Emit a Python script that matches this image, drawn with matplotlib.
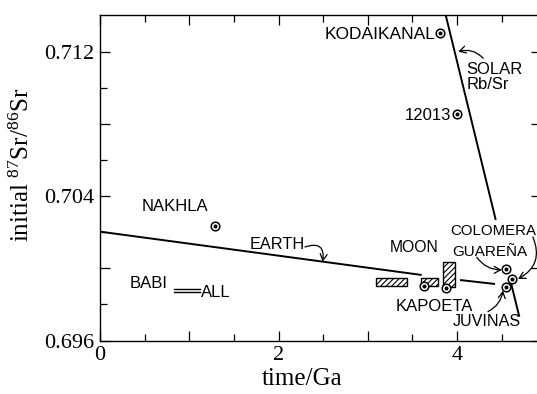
import matplotlib
matplotlib.use("Agg")
import matplotlib.pyplot as plt
from matplotlib.patches import Rectangle

plt.rcParams['font.family'] = ['Liberation Serif', 'DejaVu Serif']
plt.rcParams['mathtext.fontset'] = 'custom'
plt.rcParams['mathtext.rm'] = 'Liberation Serif'
plt.rcParams['mathtext.it'] = 'Liberation Serif:italic'
plt.rcParams['hatch.linewidth'] = 0.8

# ---------------- data ----------------
# Earth evolution line (two pieces, interrupted by the lunar boxes)
earth_t1 = [0.0, 3.604]
earth_v1 = [0.70203, 0.69963]
earth_t2 = [4.034, 4.426]
earth_v2 = [0.69935, 0.69913]

# Solar Rb/Sr line (interrupted by labels)
solar_t1 = [3.873, 4.434]
solar_v1 = [0.71403, 0.70268]
solar_t2 = [4.605, 4.698]
solar_v2 = [0.69919, 0.69732]

# Sample points (time / Ga, initial 87Sr/86Sr)
pt_names = ["KODAIKANAL", "12013", "NAKHLA", "MOON-a", "MOON-b",
            "GUAREÑA", "COLOMERA", "JUVINAS"]
pt_t = [3.810, 3.997, 1.289, 3.630, 3.882, 4.549, 4.613, 4.546]
pt_v = [0.71302, 0.70853, 0.70234, 0.69902, 0.69889, 0.69994, 0.69939, 0.69898]

# Lunar hatched boxes: (t_min, t_max, v_min, v_max)
box_tmin = [3.092, 3.593, 3.841]
box_tmax = [3.443, 3.790, 3.972]
box_vmin = [0.69902, 0.69902, 0.69895]
box_vmax = [0.69948, 0.69948, 0.70037]

# BABI / ALL double bar
babi_t = [0.829, 1.120]
babi_v = 0.69884
all_v = 0.69870

# axes ticks
x_major = [0, 1, 2, 3, 4]
x_major_labels = ["0", "", "2", "", "4"]
x_minor = [0.5, 1.5, 2.5, 3.5, 4.5]
y_major = [0.696, 0.700, 0.704, 0.708, 0.712]
y_major_labels = ["0.696", "", "0.704", "", "0.712"]
y_minor = [0.698, 0.702, 0.706, 0.710]

# ---------------- figure ----------------
fig = plt.figure(figsize=(5.37, 3.94), dpi=100)
ax = fig.add_axes([100/537, 1-340.5/394, 441/537, 325.5/394])
ax.set_xlim(0, 4.941)
ax.set_ylim(0.696, 0.71403)

for s in ['left', 'bottom', 'top']:
    ax.spines[s].set_linewidth(1.0)
ax.spines['right'].set_visible(False)

ax.set_xticks(x_major)
ax.set_xticklabels(x_major_labels)
ax.set_xticks(x_minor, minor=True)
ax.set_yticks(y_major)
ax.set_yticklabels(y_major_labels)
ax.set_yticks(y_minor, minor=True)
ax.tick_params(which='both', direction='in', top=True, right=True,
               labelsize=16, width=0.9)
ax.tick_params(which='major', length=7)
ax.tick_params(which='minor', length=5)
ax.tick_params(axis='y', which='minor', right=False)
ax.tick_params(axis='x', pad=4)
ax.tick_params(axis='y', pad=4)

ax.set_xlabel("time/Ga", fontsize=18, va='center')
ax.xaxis.set_label_coords(0.459, -0.117)
ax.set_ylabel(r"initial $^{87}$Sr/$^{86}$Sr", fontsize=18, va='center')
ax.yaxis.set_label_coords(-0.178, 0.539)

lw = 1.4
ax.plot(earth_t1, earth_v1, color='black', lw=lw, solid_capstyle='butt')
ax.plot(earth_t2, earth_v2, color='black', lw=lw, solid_capstyle='butt')
ax.plot(solar_t1, solar_v1, color='black', lw=lw, solid_capstyle='butt')
ax.plot(solar_t2, solar_v2, color='black', lw=lw, solid_capstyle='butt')

for t0, t1, v0, v1 in zip(box_tmin, box_tmax, box_vmin, box_vmax):
    ax.add_patch(Rectangle((t0, v0), t1 - t0, v1 - v0, facecolor='white',
                           edgecolor='black', lw=1.0, hatch='//////'))

ax.plot(pt_t, pt_v, 'o', ms=6.2, mfc='white', mec='black', mew=1.1, zorder=5)
ax.plot(pt_t, pt_v, 'o', ms=1.9, mfc='black', mec='black', zorder=6)

ax.plot(babi_t, [babi_v, babi_v], color='black', lw=1.0)
ax.plot(babi_t, [all_v, all_v], color='black', lw=1.0)

# ---------------- labels ----------------
sans = ['Liberation Sans', 'DejaVu Sans']
def lab(s, t, v, ha='left', fs=12, **kw):
    ax.text(t, v, s, ha=ha, va='center', fontsize=fs, family=sans, **kw)

lab("KODAIKANAL", 3.754, 0.71293, ha='right', fs=12.5)
lab("12013", 3.939, 0.70849, ha='right')
lab("SOLAR\nRb/Sr", 4.108, 0.71061, linespacing=1.0)
lab("NAKHLA", 0.467, 0.70345)
lab("EARTH", 1.681, 0.70132, fs=11.7)
lab("MOON", 3.241, 0.70115, fs=11.3)
lab("COLOMERA", 3.922, 0.70207, fs=10.8)
lab("GUAREÑA", 3.952, 0.70090, fs=11)
lab("KAPOETA", 3.317, 0.69791)
lab("JUVINAS", 3.952, 0.69704, fs=11.6)
lab("BABI", 0.336, 0.69917)
lab("ALL", 1.134, 0.69865)

arrow = dict(arrowstyle='->,head_length=0.45,head_width=0.25', color='black',
             lw=0.9, shrinkA=0, shrinkB=0)
def arr(tail, head, rad):
    ax.annotate("", xy=head, xytext=tail,
                arrowprops=dict(arrow, connectionstyle=f"arc3,rad={rad}"))

arr((4.294, 0.71163), (4.014, 0.71200), 0.3)     # SOLAR
arr((2.297, 0.70118), (2.495, 0.70037), -0.8)    # EARTH
arr((4.221, 0.70061), (4.501, 0.69991), 0.25)    # GUAREÑA
arr((4.850, 0.70173), (4.684, 0.69941), -0.45)   # COLOMERA
arr((4.347, 0.69760), (4.515, 0.69876), 0.25)    # JUVINAS

fig.savefig("out.png", dpi=100)
